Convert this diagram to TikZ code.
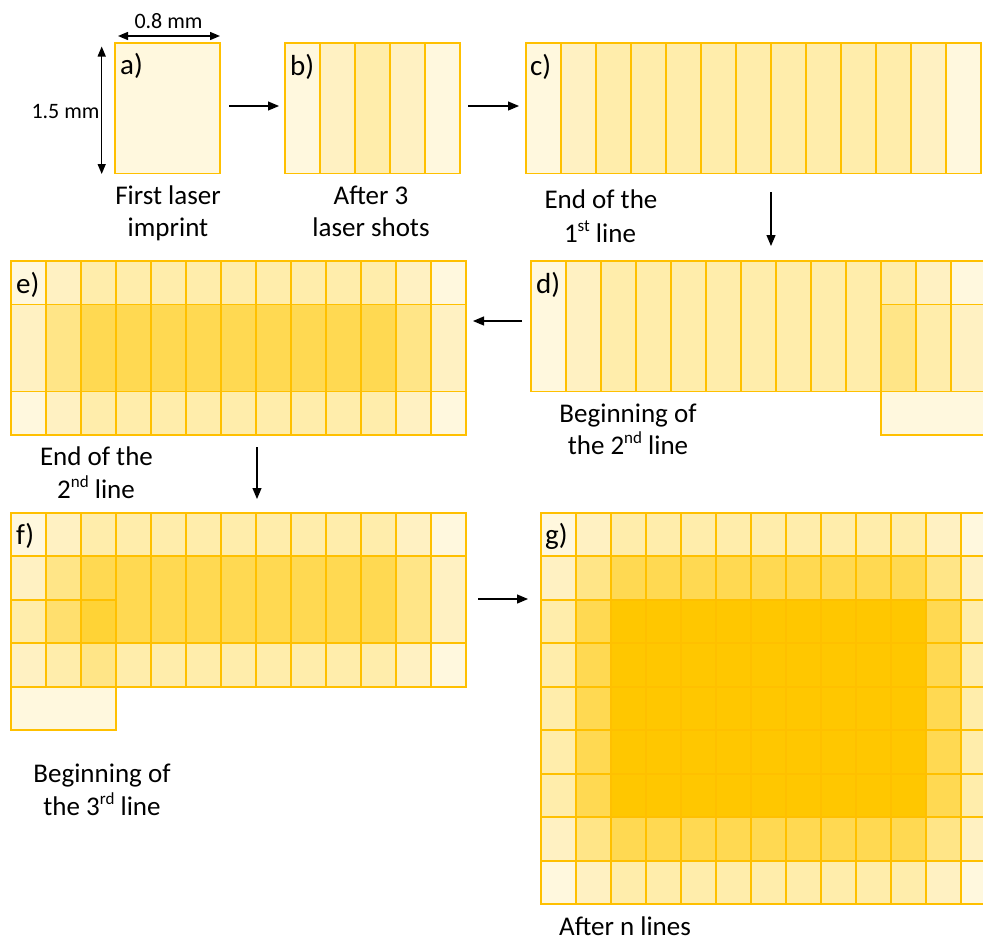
\documentclass[tikz,border=0pt]{standalone}
\usepackage{fontspec}
\setmainfont{Carlito}
\usetikzlibrary{arrows.meta}
\definecolor{impline}{HTML}{FFC000}
\definecolor{impbase}{HTML}{FFC700}
\colorlet{lvl1}{impbase!13!white}
\colorlet{lvl2}{impbase!24!white}
\colorlet{lvl3}{impbase!33!white}
\colorlet{lvl4}{impbase!47!white}
\colorlet{lvl5}{impbase!57!white}
\colorlet{lvl6}{impbase!68!white}
\colorlet{lvl7}{impbase!79!white}
\colorlet{lvl8}{impbase!90!white}
\colorlet{lvl9}{impbase!100!white}
\newcommand\cellw{35}
\newcommand\cellh{43.5}
\newcommand\supr[1]{\raisebox{0.8ex}{\fontsize{17}{17}\selectfont #1}}
% #1 X0, #2 Y0, #3 imprints per line, #4 lines, #5 #6 extra imprint (col,row) or -10
\newcommand\imprintpanel[6]{%
  \pgfmathtruncatemacro\lastcol{#3+1}%
  \pgfmathtruncatemacro\lastrow{max(#4+1,#6+2)}%
  \foreach \i in {0,...,\lastcol}{%
    \foreach \j in {0,...,\lastrow}{%
      \pgfmathtruncatemacro\lvc{max(0,min(\i+1,3,#3+2-\i,#3))}%
      \pgfmathtruncatemacro\lvr{max(0,min(\j+1,3,#4+2-\j,#4))}%
      \pgfmathtruncatemacro\lvx{((\i>=#5)&&(\i<=#5+2)&&(\j>=#6)&&(\j<=#6+2))?1:0}%
      \pgfmathtruncatemacro\lvn{\lvc*\lvr+\lvx}%
      \ifnum\lvn>0
        \fill[lvl\lvn] ({#1+\i*\cellw},{#2+\j*\cellh}) rectangle ++({\cellw+0.4},{\cellh+0.4});
      \fi
    }%
  }%
  \foreach \l in {1,...,#4}{%
    \foreach \k in {1,...,#3}{%
      \draw[impedge] ({#1+(\k-1)*\cellw},{#2+(\l-1)*\cellh}) rectangle ++({3*\cellw},{3*\cellh});
    }%
  }%
  \ifnum#5>-1
    \draw[impedge] ({#1+#5*\cellw},{#2+#6*\cellh}) rectangle ++({3*\cellw},{3*\cellh});
  \fi
}
\begin{document}
\begin{tikzpicture}[x=1pt,y=-1pt,
  impedge/.style={draw=impline,line width=1.8pt},
  captext/.style={font=\fontsize{27}{33}\selectfont,anchor=base,inner sep=0pt},
  dimlab/.style={font=\fontsize{22}{26}\selectfont,anchor=base,inner sep=0pt},
  plab/.style={font=\fontsize{29}{33}\selectfont,anchor=base west,inner sep=0pt},
  flow/.style={line width=1.2pt,-{Triangle[length=11pt,width=9pt]}},
  dimarrow/.style={line width=1.4pt,{Triangle[length=10pt,width=8pt]}-{Triangle[length=10pt,width=8pt]}}]
\useasboundingbox (0,0) rectangle (983,943);
\clip (0,0) rectangle (983,943);
\fill[white] (0,0) rectangle (983,943);

% panels
\imprintpanel{115}{43}{1}{1}{-10}{-10}
\imprintpanel{285}{43}{3}{1}{-10}{-10}
\imprintpanel{525.7}{43}{11}{1}{-10}{-10}
\imprintpanel{531}{261}{11}{1}{10}{1}
\imprintpanel{11}{261}{11}{2}{-10}{-10}
\imprintpanel{11}{512.7}{11}{2}{0}{2}
\imprintpanel{540.7}{512.7}{11}{7}{-10}{-10}

% panel labels
\node[plab] (la) at (120,74) {a)};
\node[plab] (lb) at (290,75) {b)};
\node[plab] (lc) at (530,75) {c)};
\node[plab] (ld) at (536,293) {d)};
\node[plab] (le) at (16,293) {e)};
\node[plab] (lf) at (16,544) {f)};
\node[plab] (lg) at (545,544) {g)};

% dimensions
\coordinate (dh1) at (118,36);
\coordinate (dh2) at (220,36);
\coordinate (dv1) at (101.7,46.5);
\coordinate (dv2) at (101.7,174);
\draw[dimarrow] (dh1) -- (dh2);
\draw[dimarrow] (dv1) -- (dv2);
\node[dimlab] (d08) at (168.5,28) {0.8 mm};
\node[dimlab] (d15) at (65.5,118) {1.5 mm};

% flow arrows
\coordinate (ab1) at (229,106);
\coordinate (ab2) at (279,106);
\coordinate (bc1) at (468,106);
\coordinate (bc2) at (519,106);
\coordinate (cd1) at (771,192);
\coordinate (cd2) at (771,246);
\coordinate (de1) at (522,321);
\coordinate (de2) at (473,321);
\coordinate (ef1) at (257,447);
\coordinate (ef2) at (257,499);
\coordinate (fg1) at (478,599);
\coordinate (fg2) at (528,599);
\draw[flow] (ab1) -- (ab2);
\draw[flow] (bc1) -- (bc2);
\draw[flow] (cd1) -- (cd2);
\draw[flow] (de1) -- (de2);
\draw[flow] (ef1) -- (ef2);
\draw[flow] (fg1) -- (fg2);

% captions
\node[captext] (ca1) at (168,204) {First laser};
\node[captext] (ca2) at (168,236) {imprint};
\node[captext] (cb1) at (371,204) {After 3};
\node[captext] (cb2) at (371,236) {laser shots};
\node[captext] (cc1) at (601,208) {End of the};
\node[captext] (cc2) at (600,242) {1\supr{st} line};
\node[captext] (cd1t) at (628,422) {Beginning of};
\node[captext] (cd2t) at (628,454) {the 2\supr{nd} line};
\node[captext] (ce1) at (96.5,465) {End of the};
\node[captext] (ce2) at (96,498) {2\supr{nd} line};
\node[captext] (cf1) at (102,782) {Beginning of};
\node[captext] (cf2) at (102,815) {the 3\supr{rd} line};
\node[captext] (cg1) at (625,935) {After n lines};
\end{tikzpicture}
\end{document}
